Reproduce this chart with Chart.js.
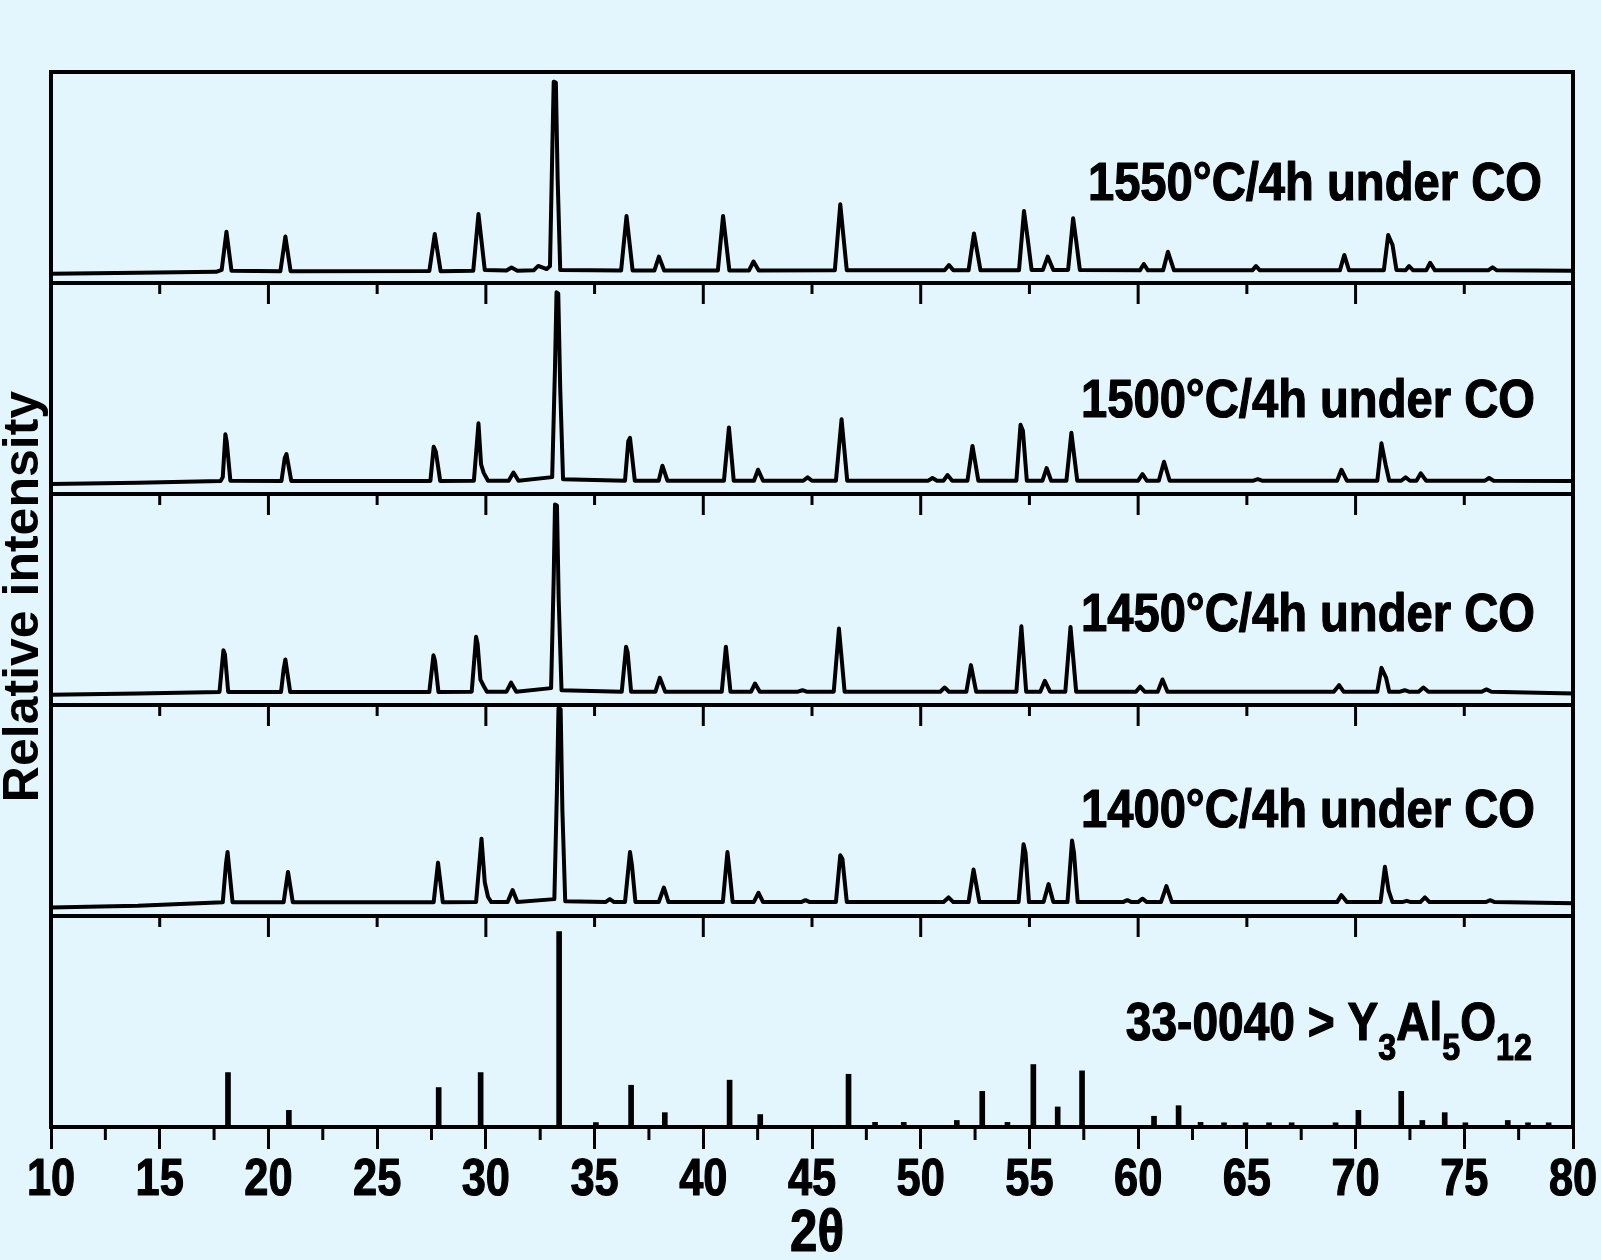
<!DOCTYPE html>
<html>
<head>
<meta charset="utf-8">
<title>XRD patterns</title>
<script src="https://cdn.jsdelivr.net/npm/chart.js@4.4.1/dist/chart.umd.min.js"></script>
<style>
  html, body { margin: 0; padding: 0; background: #E4F6FD; }
  #wrap { width: 1601px; height: 1260px; }
</style>
</head>
<body>
<div id="wrap"><canvas id="xrdChart" width="1601" height="1260"></canvas></div>
<script>
// measured patterns, [2theta, relative intensity] (0-100 per panel)
const xrd1550 = [
  [10,4.4],[14,4.8],[17.6,5.3],[17.85,6.2],[18.07,24.3],[18.3,5.8],
  [20.55,5.6],[20.78,22],[21.02,5.6],
  [27.4,5.7],[27.65,23.2],[27.92,5.6],
  [29.42,5.8],[29.66,32.7],[29.95,6.2],
  [30.95,5.9],[31.18,7.3],[31.45,5.8],
  [32.2,6.0],[32.41,8.1],[32.8,6.6],[32.95,8],[33.05,60],[33.12,95.4],[33.22,95],[33.3,50],[33.42,6.2],
  [36.22,5.9],[36.47,31.8],[36.75,5.9],
  [37.75,5.9],[37.96,12.5],[38.2,5.9],
  [40.67,5.9],[40.91,31.8],[41.2,5.9],
  [42.1,5.9],[42.31,10.2],[42.55,5.9],
  [46.05,6.0],[46.3,37.3],[46.6,6.0],
  [51.1,6.0],[51.3,8.5],[51.5,6.0],
  [52.2,6.0],[52.45,23.5],[52.75,6.0],
  [54.52,6.0],[54.75,34.1],[54.92,21],[55.1,6.2],
  [55.62,6.2],[55.84,12.5],[56.1,6.2],
  [56.78,6.2],[57.01,30.7],[57.15,20],[57.32,6.2],
  [60.08,6.0],[60.26,9],[60.45,6.0],
  [61.15,6.0],[61.37,14.8],[61.65,6.0],
  [65.25,6.0],[65.42,8],[65.6,6.0],
  [69.28,6.0],[69.48,13.3],[69.7,6.0],
  [71.3,6.0],[71.5,22.7],[71.7,18],[71.88,6.2],
  [72.3,6.0],[72.46,8],[72.65,6.0],
  [73.25,6.0],[73.43,9.6],[73.65,6.0],
  [76.1,6.0],[76.3,7.4],[76.5,6.0],
  [80,5.8]
];

const xrd1500 = [
  [10,4.7],[14,5.3],[17.8,6.2],[17.9,8],[18.02,28.3],[18.08,25],[18.25,6.3],
  [20.6,6.2],[20.75,17],[20.83,18.9],[21.05,6.2],
  [27.45,6.2],[27.6,22.4],[27.7,20],[27.9,6.2],
  [29.45,6.3],[29.66,33.5],[29.78,14],[29.9,10],[30.1,6.3],
  [31.05,6.3],[31.27,10.2],[31.5,6.3],
  [33.05,8],[33.18,60],[33.25,95.6],[33.33,95],[33.42,50],[33.55,7],
  [36.4,6.3],[36.55,25],[36.63,26.6],[36.85,6.3],
  [37.95,6.3],[38.12,13.4],[38.35,6.3],
  [40.95,6.3],[41.18,31.5],[41.4,6.3],
  [42.33,6.3],[42.52,11.5],[42.75,6.3],
  [44.6,6.3],[44.8,7.9],[45.0,6.3],
  [46.1,6.3],[46.36,35.4],[46.62,6.3],
  [50.35,6.3],[50.54,7.6],[50.75,6.3],
  [51.05,6.3],[51.23,9],[51.45,6.3],
  [52.15,6.3],[52.38,22.8],[52.65,6.3],
  [54.4,6.3],[54.59,32.8],[54.7,30],[54.88,6.3],
  [55.6,6.3],[55.79,12.3],[56.0,6.3],
  [56.7,6.3],[56.93,29],[57.2,6.3],
  [60.0,6.3],[60.2,9.4],[60.4,6.3],
  [60.95,6.3],[61.19,15.3],[61.45,6.3],
  [65.3,6.3],[65.5,7],[65.7,6.3],
  [69.15,6.3],[69.35,11.5],[69.6,6.3],
  [71.0,6.3],[71.19,24],[71.38,14],[71.55,6.3],
  [72.1,6.3],[72.3,7.9],[72.5,6.3],
  [72.8,6.3],[73.0,9.8],[73.25,6.3],
  [75.95,6.3],[76.14,7.6],[76.35,6.3],
  [80,6.2]
];

const xrd1450 = [
  [10,4.9],[14,5.4],[17.75,6.2],[17.93,26],[18.0,24],[18.15,6.2],
  [20.58,6.2],[20.7,17],[20.78,21.6],[21.0,6.2],
  [27.4,6.2],[27.59,23.6],[27.66,21],[27.82,6.2],
  [29.35,6.3],[29.55,32.3],[29.62,29],[29.75,12],[29.9,9],[30.05,6.3],
  [30.95,6.3],[31.16,10.6],[31.4,6.3],
  [33.0,8],[33.12,60],[33.18,95],[33.27,94.5],[33.35,50],[33.48,7],
  [36.25,6.3],[36.45,27.6],[36.52,25],[36.68,6.3],
  [37.8,6.3],[38.0,12.9],[38.25,6.3],
  [40.85,6.3],[41.04,27.6],[41.25,6.3],
  [42.2,6.3],[42.38,10.2],[42.6,6.3],
  [44.35,6.3],[44.56,7],[44.75,6.3],
  [46.0,6.3],[46.24,36.2],[46.5,6.3],
  [50.9,6.3],[51.1,8.3],[51.3,6.3],
  [52.1,6.3],[52.31,18.9],[52.55,6.3],
  [54.4,6.3],[54.63,37.3],[54.85,6.3],
  [55.5,6.3],[55.71,11.5],[55.95,6.3],
  [56.65,6.3],[56.89,37],[57.15,6.3],
  [59.9,6.3],[60.09,8.7],[60.3,6.3],
  [60.9,6.3],[61.12,12.1],[61.35,6.3],
  [69.0,6.3],[69.24,9.4],[69.45,6.3],
  [71.0,6.3],[71.19,17.6],[71.4,13],[71.55,6.3],
  [72.05,6.3],[72.26,7],[72.45,6.3],
  [72.9,6.3],[73.12,8.3],[73.35,6.3],
  [75.8,6.3],[76.02,7.4],[76.25,6.3],
  [80,5.5]
];

const xrd1400 = [
  [10,4.0],[14,4.8],[17.9,6.5],[18.05,25],[18.12,30.3],[18.35,6.5],
  [20.7,6.5],[20.9,20.9],[21.12,6.5],
  [27.6,6.5],[27.8,25.3],[28.02,6.5],
  [29.55,6.6],[29.8,36.6],[29.95,16],[30.1,9],[30.25,6.6],
  [31.0,6.6],[31.23,12.3],[31.45,6.6],
  [33.15,8],[33.27,60],[33.34,98.4],[33.44,98],[33.52,50],[33.65,7],
  [35.5,6.6],[35.7,8],[35.9,6.6],
  [36.4,6.6],[36.63,30.3],[36.72,24],[36.88,6.6],
  [37.95,6.6],[38.19,13.5],[38.4,6.6],
  [40.9,6.6],[41.11,30.3],[41.18,24],[41.35,6.6],
  [42.32,6.6],[42.54,11],[42.75,6.6],
  [44.5,6.6],[44.7,7.5],[44.9,6.6],
  [46.1,6.6],[46.3,28.8],[46.4,27],[46.6,6.6],
  [51.05,6.6],[51.28,8.8],[51.5,6.6],
  [52.2,6.6],[52.43,22],[52.7,6.6],
  [54.5,6.6],[54.73,34],[54.82,30],[54.98,6.6],
  [55.65,6.6],[55.88,15.1],[56.1,6.6],
  [56.75,6.6],[56.96,35.8],[57.05,30],[57.22,6.6],
  [59.3,6.6],[59.5,7.5],[59.7,6.6],
  [60.0,6.6],[60.2,8.2],[60.4,6.6],
  [61.05,6.6],[61.3,14.2],[61.55,6.6],
  [69.15,6.6],[69.35,9.9],[69.6,6.6],
  [71.15,6.6],[71.35,23.3],[71.52,12],[71.7,6.6],
  [72.15,6.6],[72.35,7.2],[72.55,6.6],
  [72.98,6.6],[73.19,8.8],[73.4,6.6],
  [76.0,6.6],[76.18,7.5],[76.4,6.6],
  [80,6.0]
];

// PDF card 33-0040 (Y3Al5O12) stick pattern
const refTheta = [18.14, 20.94, 27.83, 29.76, 33.37, 35.06, 36.68, 38.23, 41.21, 42.62,
  46.68, 47.9, 49.22, 51.66, 52.83, 53.99, 55.18, 56.3, 57.42, 60.73,
  61.86, 62.87, 63.95, 64.94, 66.02, 67.06, 69.08, 70.13, 72.1, 73.07,
  74.1, 75.05, 77.0, 77.93, 78.88];
const refIntensity = [25.8, 7.9, 18.7, 25.8, 92.6, 2.1, 19.8, 6.8, 22.2, 5.9,
  25, 2.2, 2.2, 3.1, 16.9, 2.2, 29.6, 9.5, 26.6, 5.1,
  10.1, 2.2, 2, 2, 2, 2, 2, 7.9, 16.9, 3.1,
  6.8, 2, 3.1, 2, 2];

const panelLabels = ['1550°C/4h under CO', '1500°C/4h under CO', '1450°C/4h under CO', '1400°C/4h under CO'];
const refLabelParts = [['33-0040 > Y', false], ['3', true], ['Al', false], ['5', true], ['O', false], ['12', true]];
const xTicks = [10, 15, 20, 25, 30, 35, 40, 45, 50, 55, 60, 65, 70, 75, 80];
const minorTicks = [12.5, 17.5, 22.5, 27.5, 32.5, 37.5, 42.5, 47.5, 52.5, 57.5, 62.5, 67.5, 72.5, 77.5];
const panelTicks = [15, 20, 25, 30, 35, 40, 45, 50, 55, 60, 65, 70, 75];

// panels from top to bottom
const panelIds = ['p1550', 'p1500', 'p1450', 'p1400', 'pRef'];
const patterns = [xrd1550, xrd1500, xrd1450, xrd1400];

const BG = '#E4F6FD';
const FONT = '"Liberation Sans", Arial, sans-serif';

// label anchors: [2theta of right edge, panel intensity of baseline]
const labelPos = [[78.57, 39.3], [78.25, 36.6], [78.25, 35.2], [78.25, 42], [78.11, 41.2]];

// text squeezed horizontally (the original uses a narrow heavy face)
function narrowText(ctx, txt, px, py, size, sx, align) {
  ctx.save();
  ctx.translate(px, py);
  ctx.scale(sx, 1);
  ctx.font = 'bold ' + size + 'px ' + FONT;
  ctx.textAlign = align;
  ctx.textBaseline = 'alphabetic';
  ctx.lineWidth = 1.2;
  ctx.lineJoin = 'round';
  ctx.fillText(txt, 0, 0);
  ctx.strokeText(txt, 0, 0);
  ctx.restore();
}

const frames = {
  id: 'frames',
  beforeDraw(chart) {
    const ctx = chart.ctx;
    ctx.save();
    ctx.fillStyle = BG;
    ctx.fillRect(0, 0, chart.width, chart.height);
    ctx.restore();
  },
  afterDraw(chart) {
    const {ctx, chartArea, scales} = chart;
    const x = scales.x;
    ctx.save();
    ctx.strokeStyle = '#000';
    ctx.fillStyle = '#000';
    ctx.lineCap = 'butt';

    // ticks under each separator
    ctx.lineWidth = 3;
    panelIds.slice(0, 4).forEach(id => {
      const yb = scales[id].bottom;
      panelTicks.forEach(t => {
        const len = t % 10 === 0 ? 21 : 11;
        const px = x.getPixelForValue(t);
        ctx.beginPath();
        ctx.moveTo(px, yb);
        ctx.lineTo(px, yb + len);
        ctx.stroke();
      });
    });
    // minor ticks on the bottom axis
    minorTicks.forEach(t => {
      const px = x.getPixelForValue(t);
      ctx.beginPath();
      ctx.moveTo(px, chartArea.bottom);
      ctx.lineTo(px, chartArea.bottom + 13);
      ctx.stroke();
    });

    // panel boxes
    ctx.lineWidth = 4;
    panelIds.forEach(id => {
      const s = scales[id];
      ctx.strokeRect(chartArea.left, s.top, chartArea.right - chartArea.left, s.bottom - s.top);
    });

    // tick labels and axis title
    xTicks.forEach(t => {
      narrowText(ctx, String(t), x.getPixelForValue(t), chartArea.bottom + 68, 51, 0.85, 'center');
    });
    narrowText(ctx, '2θ', x.getPixelForValue(45) + 5, chartArea.bottom + 124, 60, 0.82, 'center');

    // panel labels
    panelLabels.forEach((lab, i) => {
      const s = scales[panelIds[i]];
      narrowText(ctx, lab, x.getPixelForValue(labelPos[i][0]), s.getPixelForValue(labelPos[i][1]), 53, 0.89, 'right');
    });

    // reference card label with subscripts
    const sx = 0.87;
    let total = 0;
    refLabelParts.forEach(([txt, sub]) => {
      ctx.font = 'bold ' + (sub ? 37 : 53) + 'px ' + FONT;
      total += ctx.measureText(txt).width * sx;
    });
    let cx = x.getPixelForValue(labelPos[4][0]) - total;
    const by = scales.pRef.getPixelForValue(labelPos[4][1]);
    refLabelParts.forEach(([txt, sub]) => {
      const size = sub ? 37 : 53;
      narrowText(ctx, txt, cx, sub ? by + 20 : by, size, sx, 'left');
      ctx.font = 'bold ' + size + 'px ' + FONT;
      cx += ctx.measureText(txt).width * sx;
    });

    // y axis title
    ctx.save();
    ctx.translate(38, (chartArea.top + chartArea.bottom) / 2 - 3);
    ctx.rotate(-Math.PI / 2);
    ctx.textAlign = 'center';
    ctx.font = 'bold 50px ' + FONT;
    ctx.fillText('Relative intensity', 0, 0);
    ctx.restore();

    ctx.restore();
  }
};

const datasets = patterns.map((p, i) => ({
  type: 'line',
  label: panelLabels[i],
  data: p.map(([t, v]) => ({x: t, y: v})),
  yAxisID: panelIds[i],
  borderColor: '#000',
  borderWidth: 4,
  borderJoinStyle: 'round',
  pointRadius: 0,
  tension: 0,
  fill: false
}));
datasets.push({
  type: 'bar',
  label: '33-0040',
  data: refTheta.map((t, i) => ({x: t, y: refIntensity[i]})),
  yAxisID: 'pRef',
  backgroundColor: '#000',
  barThickness: 5,
  grouped: false
});

const yScales = {};
panelIds.forEach((id, i) => {
  yScales[id] = {
    type: 'linear',
    position: 'left',
    stack: 'xrd',
    stackWeight: 1,
    weight: 5 - i,
    min: 0,
    max: 100,
    display: false
  };
});

new Chart(document.getElementById('xrdChart'), {
  type: 'line',
  data: { datasets: datasets },
  options: {
    responsive: false,
    animation: false,
    layout: { padding: { left: 51, right: 28, top: 72, bottom: 111 } },
    plugins: { legend: { display: false }, tooltip: { enabled: false } },
    scales: Object.assign({
      x: {
        type: 'linear',
        position: 'bottom',
        offset: false,
        min: 10,
        max: 80,
        afterBuildTicks: axis => { axis.ticks = xTicks.map(v => ({value: v})); },
        ticks: { display: false },
        grid: { drawOnChartArea: false, drawTicks: true, tickLength: 22, tickWidth: 3, tickColor: '#000', offset: false },
        border: { display: true, width: 4, color: '#000' },
        title: { display: false }
      }
    }, yScales)
  },
  plugins: [frames]
});
</script>
</body>
</html>
